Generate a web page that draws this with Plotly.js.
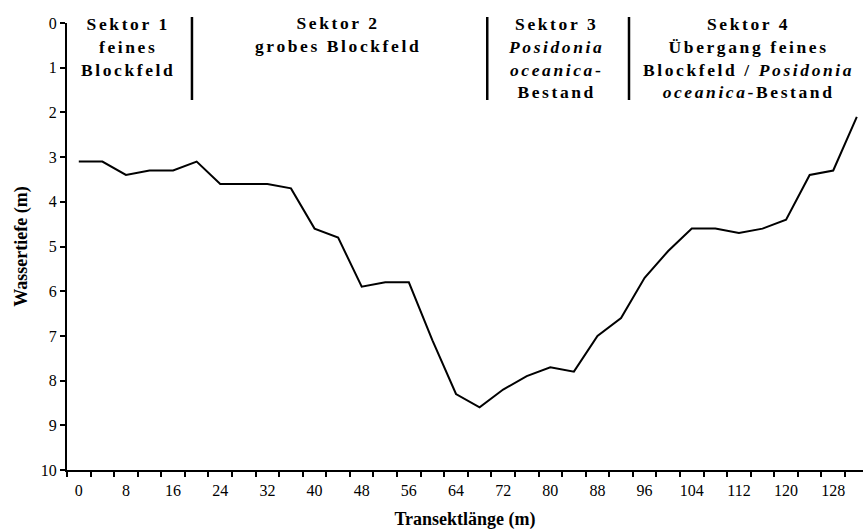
<!DOCTYPE html>
<html>
<head>
<meta charset="utf-8">
<script src="https://cdn.plot.ly/plotly-3.0.1.min.js"></script>
<style>
html, body { margin: 0; padding: 0; background: #fff; }
#chart { width: 863px; height: 530px; }
.annotation-text { letter-spacing: 2.6px; }
</style>
</head>
<body>
<div id="chart"></div>
<script>
// Transect length (m)
const transectLength = [0, 4, 8, 12, 16, 20, 24, 28, 32, 36, 40, 44, 48, 52, 56, 60, 64,
  68, 72, 76, 80, 84, 88, 92, 96, 100, 104, 108, 112, 116, 120, 124, 128, 132];
// Water depth (m)
const waterDepth = [3.1, 3.1, 3.4, 3.3, 3.3, 3.1, 3.6, 3.6, 3.6, 3.7, 4.6, 4.8, 5.9, 5.8, 5.8, 7.1, 8.3,
  8.6, 8.2, 7.9, 7.7, 7.8, 7.0, 6.6, 5.7, 5.1, 4.6, 4.6, 4.7, 4.6, 4.4, 3.4, 3.3, 2.1];

const xTickVals = [0, 8, 16, 24, 32, 40, 48, 56, 64, 72, 80, 88, 96, 104, 112, 120, 128];
const yTickVals = [0, 1, 2, 3, 4, 5, 6, 7, 8, 9, 10];

const sectorLabels = [
  "<b>Sektor 1<br>feines<br>Blockfeld</b>",
  "<b>Sektor 2<br>grobes Blockfeld</b>",
  "<b>Sektor 3<br><i>Posidonia</i><br><i>oceanica</i>-<br>Bestand</b>",
  "<b>Sektor 4<br>Übergang feines<br>Blockfeld / <i>Posidonia</i><br><i>oceanica</i>-Bestand</b>"
];
const sectorLabelX = [8.35, 44, 81, 113.7];
const sectorLabelY = [0.54, 0.268, 0.78, 0.78];
const separatorX = [19.2, 69.3, 93.35];

const serif = "Liberation Serif, Times New Roman, serif";

const trace = {
  x: transectLength,
  y: waterDepth,
  type: "scatter",
  mode: "lines",
  line: { color: "#000", width: 2 },
  hoverinfo: "x+y"
};

const layout = {
  width: 863,
  height: 530,
  margin: { l: 67, r: 0, t: 23, b: 60 },
  paper_bgcolor: "#fff",
  plot_bgcolor: "#fff",
  showlegend: false,
  font: { family: serif, color: "#000", size: 16 },
  xaxis: {
    range: [-2, 133.05],
    tickmode: "array",
    tickvals: xTickVals,
    ticks: "",
    ticklabelstandoff: 5,
    showgrid: false,
    zeroline: false,
    showline: true,
    linecolor: "#000",
    linewidth: 2,
    tickfont: { family: serif, size: 16, color: "#000" },
    minor: { tickmode: "linear", tick0: -2, dtick: 4, ticks: "outside", ticklen: 5, tickwidth: 2, tickcolor: "#000", showgrid: false },
    title: { text: "<b>Transektlänge (m)</b>", font: { family: serif, size: 18, color: "#000" }, standoff: 15 },
    automargin: false
  },
  yaxis: {
    range: [10, 0],
    tickmode: "array",
    tickvals: yTickVals,
    ticks: "outside",
    ticklen: 5,
    tickwidth: 2,
    tickcolor: "#000",
    showgrid: false,
    zeroline: false,
    showline: true,
    linecolor: "#000",
    linewidth: 2,
    tickfont: { family: serif, size: 16, color: "#000" },
    title: { text: "<b>Wassertiefe (m)</b>", font: { family: serif, size: 18, color: "#000" }, standoff: 8 },
    automargin: false
  },
  annotations: sectorLabels.map((t, i) => ({
    text: t,
    x: sectorLabelX[i],
    y: sectorLabelY[i],
    xref: "x",
    yref: "y",
    xanchor: "center",
    yanchor: "middle",
    align: "center",
    showarrow: false,
    font: { family: serif, size: 17.5, color: "#000" }
  })),
  shapes: separatorX.map(x => ({
    type: "line",
    xref: "x",
    yref: "paper",
    x0: x, x1: x,
    y0: 1.0134, y1: 0.8277,
    line: { color: "#000", width: 2.5 }
  }))
};

Plotly.newPlot("chart", [trace], layout, { displayModeBar: false, staticPlot: true });
</script>
</body>
</html>
